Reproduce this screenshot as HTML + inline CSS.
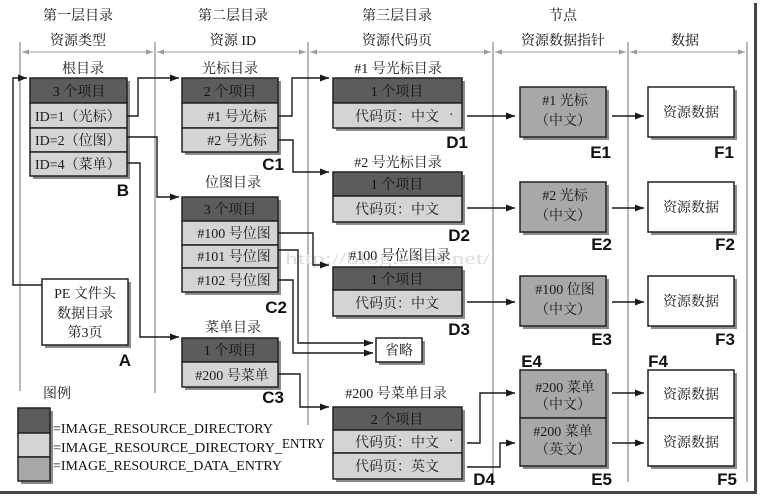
<!DOCTYPE html>
<html>
<head>
<meta charset="utf-8">
<style>
  html,body{margin:0;padding:0;background:#fff;}
  svg{display:block;}
  .t{font-family:"Liberation Serif","Noto Serif CJK SC",serif;font-size:14px;fill:#1a1a1a;}
  .tw{font-family:"Liberation Serif","Noto Serif CJK SC",serif;font-size:14px;fill:#f0f0f0;}
  .hd{font-family:"Liberation Serif","Noto Serif CJK SC",serif;font-size:14px;fill:#111;}
  .lb{font-family:"Liberation Sans",sans-serif;font-size:17px;font-weight:bold;fill:#111;}
  .lg{font-family:"Liberation Serif",serif;font-size:14px;fill:#111;}
  .sh{fill:#8c8c8c;}
  .dk{fill:#5c5c5c;stroke:#222;stroke-width:1.5;}
  .lt{fill:#d4d4d4;stroke:#222;stroke-width:1.5;}
  .md{fill:#a8a8a8;stroke:#222;stroke-width:1.5;}
  .wh{fill:#fff;stroke:#222;stroke-width:1.5;}
  .cn{fill:none;stroke:#1a1a1a;stroke-width:1.4;}
  .col{stroke:#8a8a8a;stroke-width:1.2;}
  .dim{stroke:#9a9a9a;stroke-width:1;}
</style>
</head>
<body>
<svg width="761" height="496" viewBox="0 0 761 496" xmlns="http://www.w3.org/2000/svg">
  <defs>
    <marker id="ar" markerWidth="9" markerHeight="7" refX="9" refY="3.5" orient="auto" markerUnits="userSpaceOnUse">
      <path d="M0,0 L9,3.5 L0,7 z" fill="#1a1a1a"/>
    </marker>
    <marker id="da" markerWidth="7" markerHeight="5" refX="7" refY="2.5" orient="auto" markerUnits="userSpaceOnUse">
      <path d="M0,0 L7,2.5 L0,5 z" fill="#9a9a9a"/>
    </marker>
  </defs>

  <rect x="0" y="0" width="761" height="496" fill="#fff"/>

  <!-- frame -->
  <rect x="754" y="3" width="3" height="491" fill="#444"/>
  <rect x="0" y="491" width="757" height="3" fill="#444"/>

  <!-- column lines -->
  <line class="col" x1="20" y1="42" x2="20" y2="391"/>
  <line class="col" x1="155" y1="42" x2="155" y2="393"/>
  <line class="col" x1="308" y1="42" x2="308" y2="425"/>
  <line class="col" x1="493" y1="42" x2="493" y2="482"/>
  <line class="col" x1="628" y1="42" x2="628" y2="482"/>
  <line class="col" x1="747" y1="42" x2="747" y2="482"/>

  <!-- dimension lines -->
  <g class="dim">
    <line x1="88" y1="52" x2="153" y2="52" marker-end="url(#da)"/>
    <line x1="88" y1="52" x2="22" y2="52" marker-end="url(#da)"/>
    <line x1="231" y1="52" x2="306" y2="52" marker-end="url(#da)"/>
    <line x1="231" y1="52" x2="157" y2="52" marker-end="url(#da)"/>
    <line x1="400" y1="52" x2="491" y2="52" marker-end="url(#da)"/>
    <line x1="400" y1="52" x2="310" y2="52" marker-end="url(#da)"/>
    <line x1="560" y1="52" x2="626" y2="52" marker-end="url(#da)"/>
    <line x1="560" y1="52" x2="495" y2="52" marker-end="url(#da)"/>
    <line x1="688" y1="52" x2="745" y2="52" marker-end="url(#da)"/>
    <line x1="688" y1="52" x2="630" y2="52" marker-end="url(#da)"/>
  </g>

  <!-- column titles -->
  <text class="hd" x="78" y="20" text-anchor="middle">第一层目录</text>
  <text class="hd" x="78" y="45" text-anchor="middle">资源类型</text>
  <text class="hd" x="233" y="20" text-anchor="middle">第二层目录</text>
  <text class="hd" x="233" y="45" text-anchor="middle">资源 ID</text>
  <text class="hd" x="397" y="20" text-anchor="middle">第三层目录</text>
  <text class="hd" x="397" y="45" text-anchor="middle">资源代码页</text>
  <text class="hd" x="563" y="20" text-anchor="middle">节点</text>
  <text class="hd" x="563" y="45" text-anchor="middle">资源数据指针</text>
  <text class="hd" x="685" y="45" text-anchor="middle">数据</text>

  <!-- watermark -->
  <text x="285" y="264" style="font-family:'Liberation Serif',serif;font-size:17px;fill:#dcdcdc;" textLength="205" lengthAdjust="spacingAndGlyphs">http://blog.csdn.net/</text>

  <!-- sub titles -->
  <text class="t" x="83" y="73" text-anchor="middle">根目录</text>
  <text class="t" x="230" y="73" text-anchor="middle">光标目录</text>
  <text class="t" x="398" y="73" text-anchor="middle">#1 号光标目录</text>
  <text class="t" x="233" y="187" text-anchor="middle">位图目录</text>
  <text class="t" x="398" y="167" text-anchor="middle">#2 号光标目录</text>
  <text class="t" x="400" y="260" text-anchor="middle">#100 号位图目录</text>
  <text class="t" x="233" y="332" text-anchor="middle">菜单目录</text>
  <text class="t" x="396" y="398" text-anchor="middle">#200 号菜单目录</text>

  <!-- B -->
  <rect class="sh" x="33" y="81" width="97" height="98"/>
  <rect class="dk" x="30" y="78" width="97" height="25"/>
  <rect class="lt" x="30" y="103" width="97" height="25"/>
  <rect class="lt" x="30" y="128" width="97" height="24"/>
  <rect class="lt" x="30" y="152" width="97" height="24"/>
  <text class="hd" x="79" y="96" text-anchor="middle">3 个项目</text>
  <text class="t" x="35" y="121">ID=1（光标）</text>
  <text class="t" x="35" y="145">ID=2（位图）</text>
  <text class="t" x="35" y="169">ID=4（菜单）</text>
  <text class="lb" x="129" y="196" text-anchor="end">B</text>

  <!-- C1 -->
  <rect class="sh" x="185" y="81" width="96" height="74"/>
  <rect class="dk" x="182" y="78" width="96" height="25"/>
  <rect class="lt" x="182" y="103" width="96" height="25"/>
  <rect class="lt" x="182" y="128" width="96" height="24"/>
  <text class="hd" x="230" y="96" text-anchor="middle">2 个项目</text>
  <text class="t" x="237" y="121" text-anchor="middle">#1 号光标</text>
  <text class="t" x="237" y="145" text-anchor="middle">#2 号光标</text>
  <text class="lb" x="284" y="170" text-anchor="end">C1</text>

  <!-- C2 -->
  <rect class="sh" x="185" y="200" width="96" height="95"/>
  <rect class="dk" x="182" y="197" width="96" height="24"/>
  <rect class="lt" x="182" y="221" width="96" height="24"/>
  <rect class="lt" x="182" y="245" width="96" height="23"/>
  <rect class="lt" x="182" y="268" width="96" height="24"/>
  <text class="hd" x="230" y="214" text-anchor="middle">3 个项目</text>
  <text class="t" x="234" y="238" text-anchor="middle">#100 号位图</text>
  <text class="t" x="234" y="261" text-anchor="middle">#101 号位图</text>
  <text class="t" x="234" y="285" text-anchor="middle">#102 号位图</text>
  <text class="lb" x="287" y="313" text-anchor="end">C2</text>

  <!-- C3 -->
  <rect class="sh" x="185" y="341" width="96" height="49"/>
  <rect class="dk" x="182" y="338" width="96" height="24"/>
  <rect class="lt" x="182" y="362" width="96" height="25"/>
  <text class="hd" x="230" y="355" text-anchor="middle">1 个项目</text>
  <text class="t" x="232" y="380" text-anchor="middle">#200 号菜单</text>
  <text class="lb" x="284" y="403" text-anchor="end">C3</text>

  <!-- A -->
  <rect class="sh" x="45" y="282" width="86" height="66"/>
  <rect class="wh" x="42" y="279" width="86" height="66"/>
  <text class="t" x="85" y="298" text-anchor="middle">PE 文件头</text>
  <text class="t" x="85" y="318" text-anchor="middle">数据目录</text>
  <text class="t" x="85" y="337" text-anchor="middle">第3页</text>
  <text class="lb" x="131" y="366" text-anchor="end">A</text>

  <!-- D1 -->
  <rect class="sh" x="336" y="81" width="129" height="50"/>
  <rect class="dk" x="333" y="78" width="129" height="25"/>
  <rect class="lt" x="333" y="103" width="129" height="25"/>
  <text class="hd" x="397" y="96" text-anchor="middle">1 个项目</text>
  <text class="t" x="397" y="121" text-anchor="middle">代码页：中文</text>
  <text class="t" x="449" y="119">·</text>
  <text class="lb" x="468" y="148" text-anchor="end">D1</text>

  <!-- D2 -->
  <rect class="sh" x="336" y="175" width="129" height="50"/>
  <rect class="dk" x="333" y="172" width="129" height="24"/>
  <rect class="lt" x="333" y="196" width="129" height="26"/>
  <text class="hd" x="397" y="189" text-anchor="middle">1 个项目</text>
  <text class="t" x="397" y="214" text-anchor="middle">代码页：中文</text>
  <text class="lb" x="470" y="241" text-anchor="end">D2</text>

  <!-- D3 -->
  <rect class="sh" x="336" y="270" width="129" height="49"/>
  <rect class="dk" x="333" y="267" width="129" height="23"/>
  <rect class="lt" x="333" y="290" width="129" height="26"/>
  <text class="hd" x="397" y="284" text-anchor="middle">1 个项目</text>
  <text class="t" x="397" y="308" text-anchor="middle">代码页：中文</text>
  <text class="lb" x="470" y="335" text-anchor="end">D3</text>

  <!-- 省略 -->
  <rect class="sh" x="379" y="341" width="46" height="24"/>
  <rect class="wh" x="376" y="338" width="46" height="24"/>
  <text class="t" x="399" y="355" text-anchor="middle">省略</text>

  <!-- D4 -->
  <rect class="sh" x="336" y="410" width="129" height="72"/>
  <rect class="dk" x="333" y="407" width="129" height="23"/>
  <rect class="lt" x="333" y="430" width="129" height="23"/>
  <rect class="lt" x="333" y="453" width="129" height="26"/>
  <text class="hd" x="397" y="424" text-anchor="middle">2 个项目</text>
  <text class="t" x="397" y="447" text-anchor="middle">代码页：中文</text>
  <text class="t" x="449" y="445">·</text>
  <text class="t" x="397" y="471" text-anchor="middle">代码页：英文</text>
  <text class="lb" x="495" y="485" text-anchor="end">D4</text>

  <!-- E boxes -->
  <rect class="sh" x="523" y="90" width="86" height="50"/>
  <rect class="md" x="520" y="87" width="86" height="50"/>
  <text class="t" x="565" y="105" text-anchor="middle">#1 光标</text>
  <text class="t" x="563" y="125" text-anchor="middle">（中文）</text>
  <text class="lb" x="611" y="158" text-anchor="end">E1</text>

  <rect class="sh" x="523" y="185" width="86" height="50"/>
  <rect class="md" x="520" y="182" width="86" height="50"/>
  <text class="t" x="565" y="200" text-anchor="middle">#2 光标</text>
  <text class="t" x="563" y="220" text-anchor="middle">（中文）</text>
  <text class="lb" x="612" y="250" text-anchor="end">E2</text>

  <rect class="sh" x="523" y="279" width="86" height="50"/>
  <rect class="md" x="520" y="276" width="86" height="50"/>
  <text class="t" x="565" y="294" text-anchor="middle">#100 位图</text>
  <text class="t" x="563" y="314" text-anchor="middle">（中文）</text>
  <text class="lb" x="612" y="345" text-anchor="end">E3</text>

  <rect class="sh" x="523" y="373" width="86" height="96"/>
  <rect class="md" x="520" y="370" width="86" height="48"/>
  <rect class="md" x="520" y="418" width="86" height="48"/>
  <text class="t" x="565" y="392" text-anchor="middle">#200 菜单</text>
  <text class="t" x="563" y="409" text-anchor="middle">（中文）</text>
  <text class="t" x="563" y="436" text-anchor="middle">#200 菜单</text>
  <text class="t" x="563" y="454" text-anchor="middle">（英文）</text>
  <text class="lb" x="542" y="367" text-anchor="end">E4</text>
  <text class="lb" x="612" y="485" text-anchor="end">E5</text>

  <!-- F boxes -->
  <rect class="sh" x="651" y="90" width="86" height="50"/>
  <rect class="wh" x="648" y="87" width="86" height="50"/>
  <text class="t" x="691" y="117" text-anchor="middle">资源数据</text>
  <text class="lb" x="734" y="158" text-anchor="end">F1</text>

  <rect class="sh" x="651" y="185" width="86" height="50"/>
  <rect class="wh" x="648" y="182" width="86" height="50"/>
  <text class="t" x="691" y="212" text-anchor="middle">资源数据</text>
  <text class="lb" x="735" y="250" text-anchor="end">F2</text>

  <rect class="sh" x="651" y="279" width="86" height="50"/>
  <rect class="wh" x="648" y="276" width="86" height="50"/>
  <text class="t" x="691" y="306" text-anchor="middle">资源数据</text>
  <text class="lb" x="735" y="345" text-anchor="end">F3</text>

  <rect class="sh" x="651" y="373" width="86" height="96"/>
  <rect class="wh" x="648" y="370" width="86" height="48"/>
  <rect class="wh" x="648" y="418" width="86" height="48"/>
  <text class="t" x="691" y="399" text-anchor="middle">资源数据</text>
  <text class="t" x="691" y="447" text-anchor="middle">资源数据</text>
  <text class="lb" x="668" y="367" text-anchor="end">F4</text>
  <text class="lb" x="737" y="485" text-anchor="end">F5</text>

  <!-- connectors -->
  <polyline class="cn" points="42,285 13,285 13,78 27,78" marker-end="url(#ar)"/>
  <polyline class="cn" points="127,116 138,116 138,78 179,78" marker-end="url(#ar)"/>
  <polyline class="cn" points="127,137 157,137 157,197 179,197" marker-end="url(#ar)"/>
  <polyline class="cn" points="127,163 140,163 140,337 179,337" marker-end="url(#ar)"/>
  <polyline class="cn" points="278,116 292,116 292,78 329,78" marker-end="url(#ar)"/>
  <polyline class="cn" points="278,140 293,140 293,172 329,172" marker-end="url(#ar)"/>
  <polyline class="cn" points="278,233 313,233 313,265 329,265" marker-end="url(#ar)"/>
  <polyline class="cn" points="278,250 298,250 298,343 373,343" marker-end="url(#ar)"/>
  <polyline class="cn" points="278,280 293,280 293,353 373,353" marker-end="url(#ar)"/>
  <polyline class="cn" points="278,374 300,374 300,407 329,407" marker-end="url(#ar)"/>

  <line class="cn" x1="467" y1="116" x2="515" y2="116" marker-end="url(#ar)"/>
  <line class="cn" x1="612" y1="116" x2="644" y2="116" marker-end="url(#ar)"/>
  <line class="cn" x1="467" y1="208" x2="515" y2="208" marker-end="url(#ar)"/>
  <line class="cn" x1="612" y1="208" x2="644" y2="208" marker-end="url(#ar)"/>
  <line class="cn" x1="467" y1="302" x2="515" y2="302" marker-end="url(#ar)"/>
  <line class="cn" x1="612" y1="302" x2="644" y2="302" marker-end="url(#ar)"/>
  <polyline class="cn" points="467,443 480,443 480,393 515,393" marker-end="url(#ar)"/>
  <polyline class="cn" points="467,467 500,467 500,443 515,443" marker-end="url(#ar)"/>
  <line class="cn" x1="612" y1="393" x2="644" y2="393" marker-end="url(#ar)"/>
  <line class="cn" x1="612" y1="443" x2="644" y2="443" marker-end="url(#ar)"/>

  <!-- legend -->
  <text class="t" x="43" y="398">图例</text>
  <rect class="sh" x="21" y="411" width="32" height="73"/>
  <rect class="dk" x="18" y="408" width="32" height="25"/>
  <rect class="lt" x="18" y="433" width="32" height="24"/>
  <rect class="md" x="18" y="457" width="32" height="24"/>
  <text class="lg" x="53" y="433" textLength="220" lengthAdjust="spacingAndGlyphs">=IMAGE_RESOURCE_DIRECTORY</text>
  <text class="lg" x="53" y="452" textLength="229" lengthAdjust="spacingAndGlyphs">=IMAGE_RESOURCE_DIRECTORY_</text>
  <text class="lg" x="282" y="448" textLength="43" lengthAdjust="spacingAndGlyphs">ENTRY</text>
  <text class="lg" x="53" y="470" textLength="229" lengthAdjust="spacingAndGlyphs">=IMAGE_RESOURCE_DATA_ENTRY</text>
</svg>
</body>
</html>
